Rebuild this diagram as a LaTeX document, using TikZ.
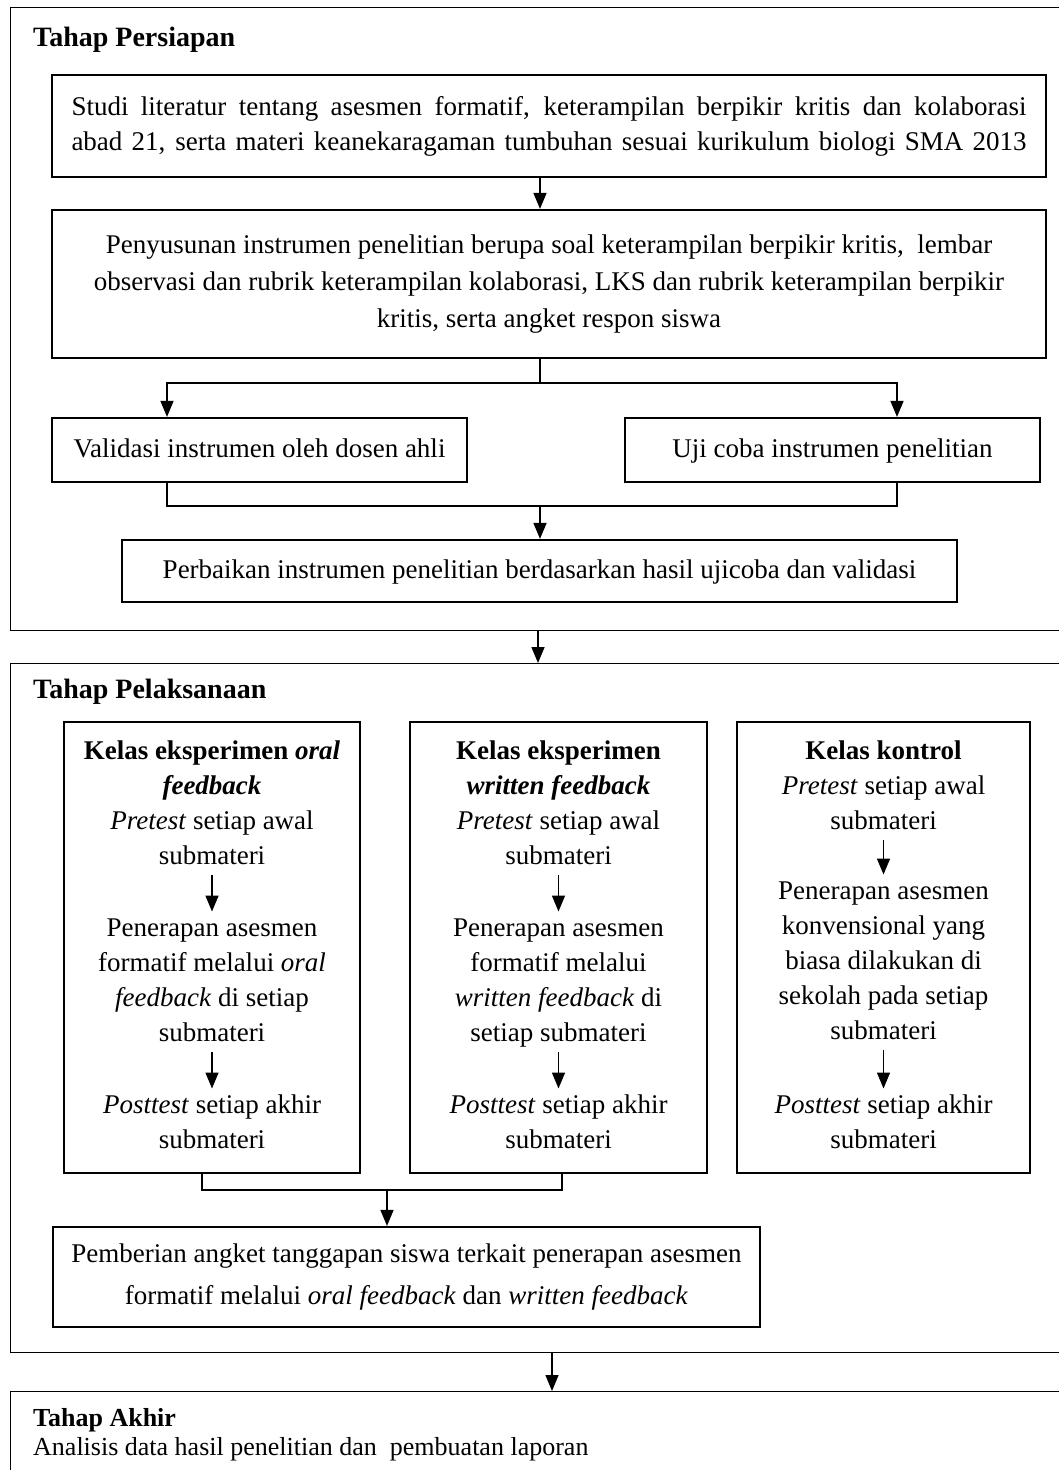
\documentclass[tikz,border=0pt]{standalone}
\usepackage{fontspec}
\setmainfont{Liberation Serif}
\usetikzlibrary{arrows.meta,calc}
\begin{document}
\begin{tikzpicture}[x=1pt,y=-1pt,
  every node/.style={inner sep=0pt, font=\fontsize{27}{35}\selectfont},
  box/.style={draw, line width=2.2pt, align=center},
  outer/.style={draw, line width=1.4pt},
  txt/.style={align=center, anchor=north},
  ttl/.style={anchor=west, font=\fontsize{28}{30}\selectfont\bfseries},
  conn/.style={line width=1.5pt},
  arr/.style={line width=1.5pt, -{Triangle[width=13pt,length=16pt]}}]
\useasboundingbox (0,0) rectangle (1059,1470);
\clip (0,0) rectangle (1059,1470);
% outer frames
\node[outer, anchor=north west, minimum width=1070pt, minimum height=623pt] (o1) at (10,7) {};
\node[outer, anchor=north west, minimum width=1070pt, minimum height=689pt] (o2) at (10,663) {};
\node[outer, anchor=north west, minimum width=1070pt, minimum height=120pt] (o3) at (10,1391) {};
% titles
\node[ttl] (t1) at (33,40) {Tahap Persiapan};
\node[ttl] (t2) at (33,692) {Tahap Pelaksanaan};
\node[ttl, font=\fontsize{26}{30}\selectfont\bfseries] (t3) at (33,1420) {Tahap Akhir};
\node[anchor=west, font=\fontsize{26}{30}\selectfont] (t4) at (33,1449) {Analisis data hasil penelitian dan\ \ pembuatan laporan};
% stage 1
\node[box, minimum width=994pt, minimum height=102pt] (b1) at (549,126)
 {\makebox[955pt][s]{Studi literatur tentang asesmen formatif, keterampilan berpikir kritis dan kolaborasi}\\
  \makebox[955pt][s]{abad 21, serta materi keanekaragaman tumbuhan sesuai kurikulum biologi SMA 2013}};
\node[box, minimum width=994pt, minimum height=148pt, font=\fontsize{27}{37}\selectfont] (b2) at (549,284)
 {Penyusunan instrumen penelitian berupa soal keterampilan berpikir kritis,\ \ lembar\\
  observasi dan rubrik keterampilan kolaborasi, LKS dan rubrik keterampilan berpikir\\
  kritis, serta angket respon siswa};
\node[box, minimum width=415pt, minimum height=64pt] (b3) at (259.5,450) {\strut Validasi instrumen oleh dosen ahli};
\node[box, minimum width=415pt, minimum height=64pt] (b4) at (832.5,450) {\strut Uji coba instrumen penelitian};
\node[box, minimum width=835pt, minimum height=62pt] (b5) at (539.5,571) {\strut Perbaikan instrumen penelitian berdasarkan hasil ujicoba dan validasi};
\draw[arr] (b1.south -| 540,0) -- (b2.north -| 540,0);
\coordinate (j1) at (540,383);
\coordinate (l1) at (167,383);
\coordinate (r1) at (897,383);
\draw[conn] (b2.south -| j1) -- (j1);
\draw[arr] (j1) -- (l1) -- (l1 |- b3.north);
\draw[arr] (j1) -- (r1) -- (r1 |- b4.north);
\coordinate (l2) at (167,506);
\coordinate (r2) at (897,506);
\coordinate (j2) at (540,506);
\draw[conn] (l2 |- b3.south) -- (l2) -- (r2) -- (r2 |- b4.south);
\draw[arr] (j2) -- (j2 |- b5.north);
\coordinate (a1) at (538,0);
\draw[arr] (o1.south -| a1) -- (o2.north -| a1);
% stage 2 columns
\node[box, minimum width=296pt, minimum height=451pt] (colA) at (212,947.5) {};
\node[box, minimum width=297pt, minimum height=451pt] (colB) at (558.5,947.5) {};
\node[box, minimum width=293pt, minimum height=451pt] (colC) at (883.5,947.5) {};
\node[txt] (A1) at (212,734.5) {\strut\textbf{Kelas eksperimen \textit{oral}}\\\textbf{\textit{feedback}}\\\textit{Pretest} setiap awal\\submateri\strut};
\node[txt] (A2) at (212,911.5) {\strut Penerapan asesmen\\formatif melalui \textit{oral}\\\textit{feedback} di setiap\\submateri\strut};
\node[txt] (A3) at (212,1088.5) {\strut\textit{Posttest} setiap akhir\\submateri\strut};
\node[txt] (B1) at (558.5,734.5) {\strut\textbf{Kelas eksperimen}\\\textbf{\textit{written feedback}}\\\textit{Pretest} setiap awal\\submateri\strut};
\node[txt] (B2) at (558.5,911.5) {\strut Penerapan asesmen\\formatif melalui\\\textit{written feedback} di\\setiap submateri\strut};
\node[txt] (B3) at (558.5,1088.5) {\strut\textit{Posttest} setiap akhir\\submateri\strut};
\node[txt] (C1) at (883.5,734.5) {\strut\textbf{Kelas kontrol}\\\textit{Pretest} setiap awal\\submateri\strut};
\node[txt] (C2) at (883.5,874.5) {\strut Penerapan asesmen\\konvensional yang\\biasa dilakukan di\\sekolah pada setiap\\submateri\strut};
\node[txt] (C3) at (883.5,1088.5) {\strut\textit{Posttest} setiap akhir\\submateri\strut};
\draw[arr] (A1.south) -- (A2.north);
\draw[arr] (A2.south) -- (A3.north);
\draw[arr] (B1.south) -- (B2.north);
\draw[arr] (B2.south) -- (B3.north);
\draw[arr] (C1.south) -- (C2.north);
\draw[arr] (C2.south) -- (C3.north);
\node[box, minimum width=707pt, minimum height=100pt, font=\fontsize{27}{42}\selectfont] (b6) at (406.5,1277)
 {Pemberian angket tanggapan siswa terkait penerapan asesmen\\
  formatif melalui \textit{oral feedback} dan \textit{written feedback}};
\coordinate (cA) at (202,1190);
\coordinate (cB) at (562,1190);
\coordinate (cM) at (387,1190);
\draw[conn] (cA |- colA.south) -- (cA) -- (cB) -- (cB |- colB.south);
\draw[arr] (cM) -- (cM |- b6.north);
\coordinate (a2) at (552,0);
\draw[arr] (o2.south -| a2) -- (o3.north -| a2);
\end{tikzpicture}
\end{document}
